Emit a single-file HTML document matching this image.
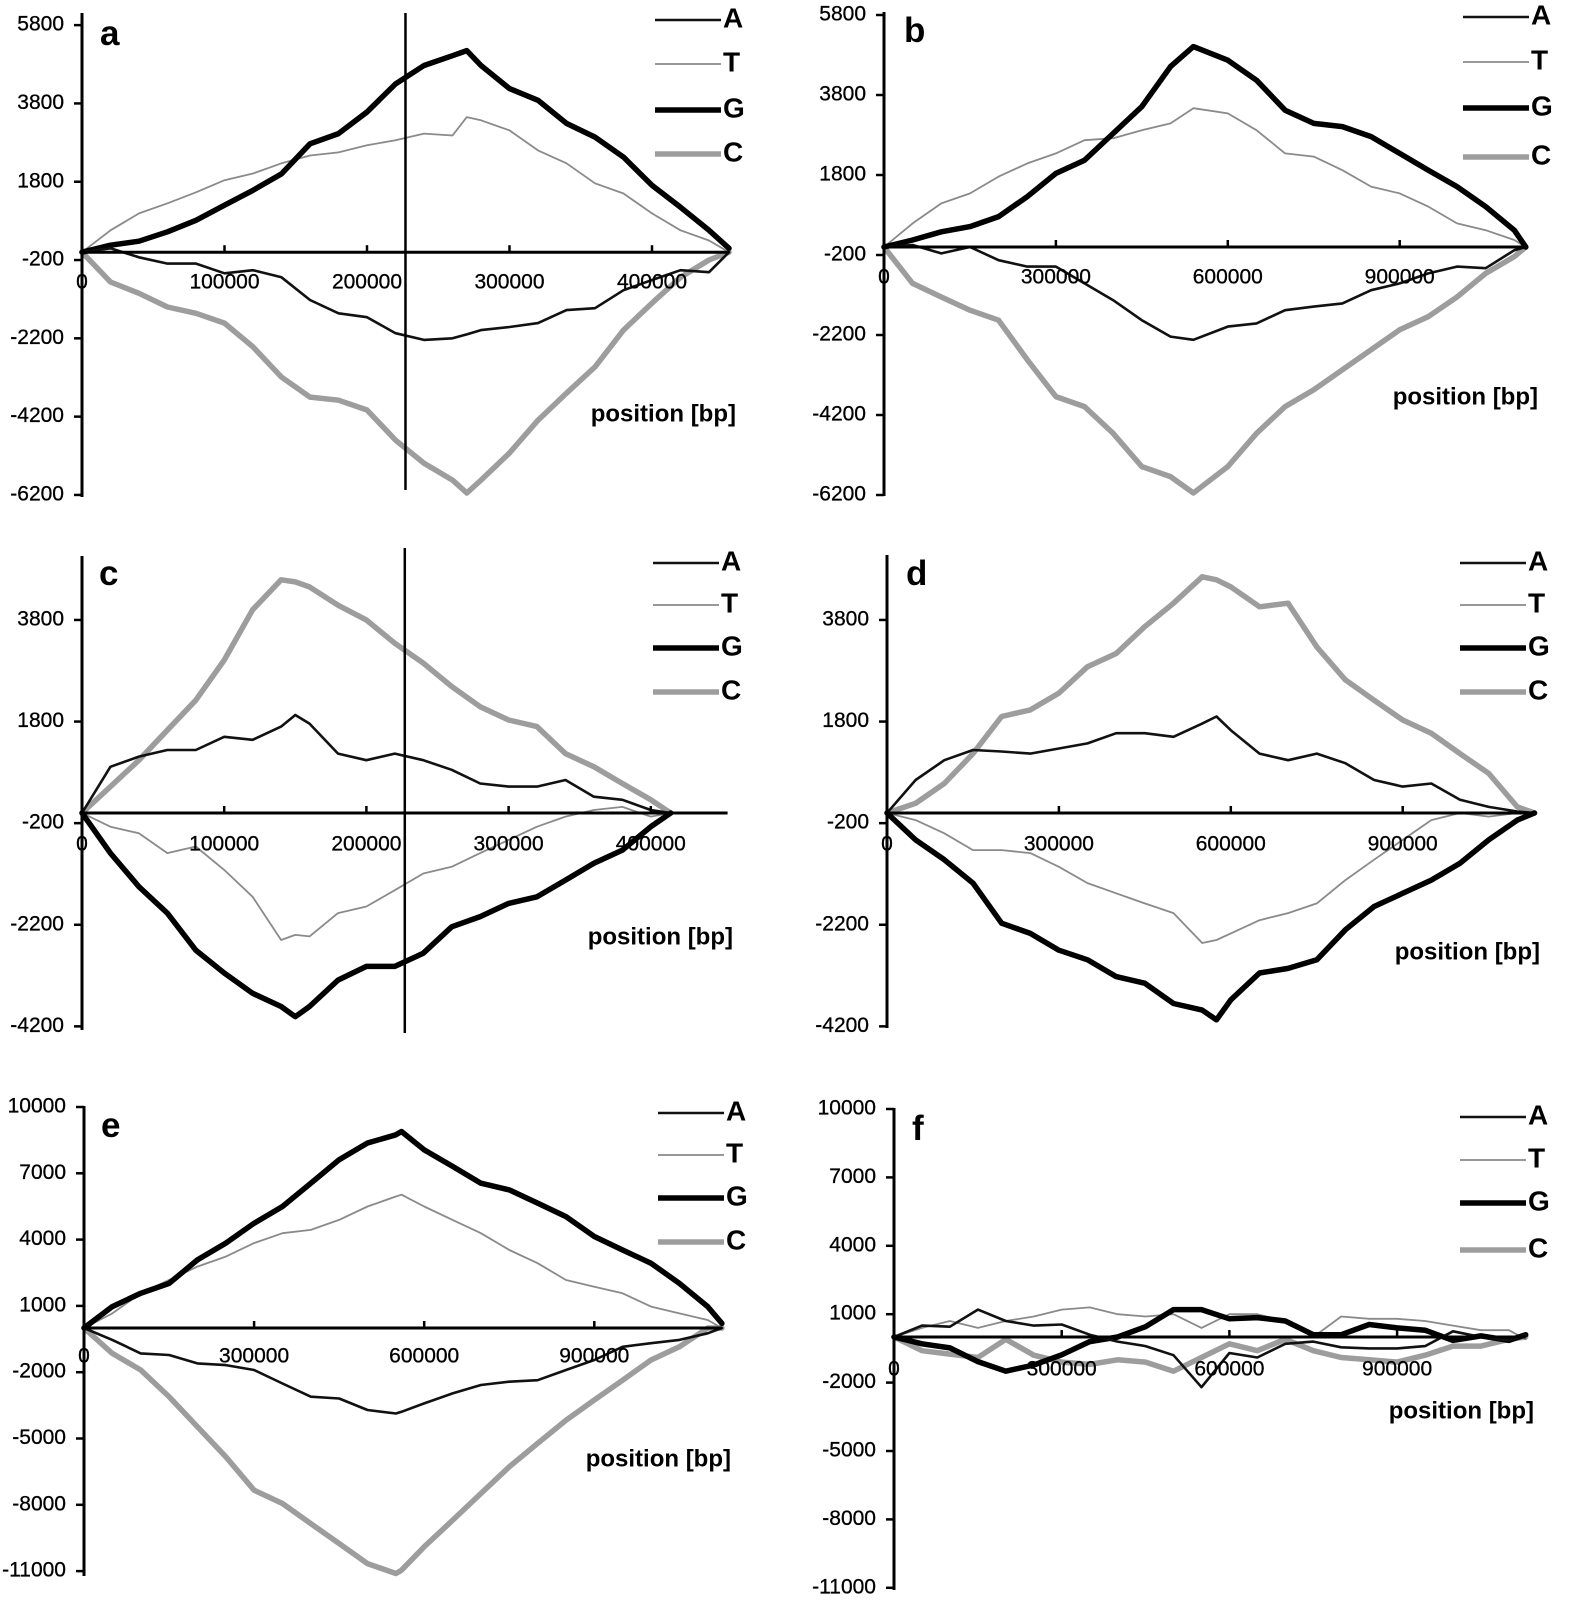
<!DOCTYPE html>
<html><head><meta charset="utf-8"><title>Cumulative nucleotide skew panels</title>
<style>
html,body{margin:0;padding:0;background:#fff;}
svg{display:block;}
text{font-family:"Liberation Sans",Arial,sans-serif;fill:#000;}
.yt{font-size:21px;text-anchor:end;dominant-baseline:middle;stroke:#000;stroke-width:0.3;}
.xt{font-size:21px;text-anchor:middle;dominant-baseline:middle;stroke:#000;stroke-width:0.3;}
.pl{font-size:35px;font-weight:bold;}
.lg{font-size:28px;font-weight:bold;dominant-baseline:middle;}
.ax{font-size:24px;font-weight:bold;text-anchor:end;dominant-baseline:middle;}
</style></head>
<body>
<svg id="fig" width="1586" height="1602" viewBox="0 0 1586 1602" xmlns="http://www.w3.org/2000/svg"></svg>
<script>
// ---- data (positions in kbp, values = cumulative skew) ----
const posA = [0,20,40,60,80,100,120,140,160,180,200,220,240,260,270,280,300,320,340,360,380,400,420,440,454];
const aG = [0,180,280,520,815,1200,1580,2000,2770,3030,3580,4300,4770,5020,5150,4770,4180,3880,3290,2940,2430,1710,1150,560,100];
const aT = [0,560,990,1250,1530,1840,2010,2270,2470,2550,2730,2860,3030,2980,3450,3370,3110,2600,2270,1760,1500,990,560,300,0];
const aA = [0,100,-130,-290,-290,-540,-460,-640,-1220,-1560,-1660,-2070,-2240,-2200,-2100,-1990,-1910,-1810,-1480,-1430,-970,-710,-460,-510,0];
const aC = [0,-760,-1050,-1400,-1560,-1810,-2420,-3190,-3700,-3780,-4030,-4800,-5390,-5820,-6150,-5820,-5130,-4290,-3600,-2930,-1990,-1300,-640,-200,0];

const posB = [0,50,100,150,200,250,300,350,400,450,500,540,600,650,700,750,800,850,900,950,1000,1050,1100,1120];
const bG = [0,175,380,510,760,1260,1840,2170,2840,3510,4510,5010,4670,4170,3420,3090,3010,2760,2340,1920,1510,1010,420,0];
const bT = [0,590,1090,1340,1760,2090,2340,2670,2720,2920,3090,3470,3340,2920,2340,2260,1920,1510,1340,1010,590,420,175,0];
const bA = [0,50,-160,0,-330,-490,-490,-910,-1330,-1830,-2240,-2320,-1990,-1910,-1580,-1490,-1410,-1080,-910,-660,-490,-530,-80,0];
const bC = [0,-910,-1250,-1580,-1830,-2820,-3740,-3990,-4660,-5490,-5740,-6150,-5490,-4660,-3990,-3570,-3070,-2570,-2070,-1740,-1250,-660,-240,0];

const posC = [0,20,40,60,80,100,120,140,150,160,180,200,220,240,260,280,300,320,340,360,380,400,414];
const cC = [0,520,1040,1630,2220,3010,4000,4590,4550,4450,4090,3800,3340,2950,2490,2090,1830,1700,1170,910,580,260,0];
const cA = [0,910,1110,1240,1240,1500,1440,1700,1930,1760,1170,1040,1170,1040,850,580,520,520,650,320,260,60,0];
const cT = [0,-270,-400,-790,-660,-1120,-1650,-2500,-2400,-2430,-1970,-1840,-1520,-1190,-1060,-790,-530,-270,-70,60,120,-70,0];
const cG = [0,-790,-1450,-1970,-2700,-3150,-3550,-3810,-4010,-3810,-3290,-3020,-3020,-2760,-2240,-2040,-1780,-1650,-1320,-990,-730,-270,0];

const posD = [0,50,100,150,200,250,300,350,400,450,500,550,575,600,650,700,750,800,850,900,950,1000,1050,1100,1130];
const dC = [0,190,580,1170,1900,2030,2360,2880,3140,3670,4130,4650,4590,4450,4060,4130,3270,2620,2220,1830,1570,1170,780,120,0];
const dA = [0,650,1040,1240,1210,1170,1270,1370,1570,1570,1500,1760,1900,1630,1170,1040,1170,980,650,520,580,260,120,30,0];
const dT = [0,-140,-400,-730,-730,-790,-1060,-1380,-1580,-1780,-1970,-2560,-2500,-2370,-2110,-1970,-1780,-1320,-920,-530,-140,0,-70,0,0];
const dG = [0,-530,-920,-1380,-2170,-2370,-2700,-2890,-3220,-3350,-3750,-3880,-4070,-3680,-3150,-3060,-2890,-2300,-1840,-1580,-1320,-990,-530,-140,0];

const posE = [0,50,100,150,200,250,300,350,400,450,500,550,560,600,650,700,750,800,850,900,950,1000,1050,1100,1125];
const eG = [0,970,1570,2020,3080,3840,4740,5500,6550,7610,8370,8740,8890,8060,7310,6550,6250,5650,5040,4140,3530,2930,2020,970,210];
const eT = [0,660,1570,2170,2780,3230,3840,4290,4440,4890,5500,5950,6030,5500,4890,4290,3530,2930,2170,1870,1570,970,660,360,0];
const eA = [0,-540,-1150,-1220,-1600,-1680,-1900,-2510,-3110,-3190,-3710,-3870,-3790,-3410,-2960,-2580,-2430,-2360,-1900,-1450,-850,-690,-540,-240,0];
const eC = [0,-1150,-1900,-3110,-4470,-5830,-7340,-7940,-8850,-9750,-10660,-11110,-10960,-9900,-8700,-7490,-6280,-5220,-4170,-3260,-2360,-1450,-850,0,0];

const posF = [0,50,100,150,200,250,300,350,400,450,500,550,600,650,700,750,800,850,900,950,1000,1050,1100,1130];
const fG = [0,-300,-480,-1080,-1500,-1230,-780,-200,0,450,1200,1200,800,850,700,100,100,550,400,300,-150,50,-150,100];
const fA = [0,500,450,1200,700,500,550,100,-200,-400,-800,-2200,-700,-900,-300,-200,-450,-500,-500,-400,250,0,-150,100];
const fT = [0,400,700,400,700,900,1200,1300,1000,900,1000,400,1000,1000,700,0,900,800,800,700,500,300,300,-100];
const fC = [0,-600,-750,-900,-100,-800,-1100,-1200,-1000,-1100,-1500,-900,-300,-600,-100,-600,-900,-1000,-1100,-800,-400,-400,-100,0];

const yTicksAB = [5800,3800,1800,-200,-2200,-4200,-6200];
const yTicksCD = [3800,1800,-200,-2200,-4200];
const yTicksEF = [10000,7000,4000,1000,-2000,-5000,-8000,-11000];
const xTicksSmall = [100000,200000,300000,400000];
const xTicksLarge = [300000,600000,900000];

// ---- layout (geometry only) ----
const panels = [
 {id:'a',x0:82,sx:0.001425,y0:252.2,sy:0.03915,top:13,bot:497,end:454000,vline:227000,vtop:13,vbot:490,
  yt:yTicksAB,xt:xTicksSmall,xly:283,pos:posA,A:aA,T:aT,G:aG,C:aC,lgx:655,lgy:[20,64,110,154],lbl:[100,45],posl:[736,415]},
 {id:'b',x0:884,sx:0.000573,y0:247,sy:0.04,top:12,bot:496,end:1120000,
  yt:yTicksAB,xt:xTicksLarge,xly:278,pos:posB,A:bA,T:bT,G:bG,C:bC,lgx:1463,lgy:[17,62,108,157],lbl:[904,42],posl:[1538,398]},
 {id:'c',x0:82,sx:0.001422,y0:813,sy:0.0508,top:556,bot:1030,end:454000,vline:227000,vtop:548,vbot:1033,
  yt:yTicksCD,xt:xTicksSmall,xly:845,pos:posC,A:cA,T:cT,G:cG,C:cC,lgx:653,lgy:[563,605,648,692],lbl:[99,585],posl:[733,938]},
 {id:'d',x0:887,sx:0.000573,y0:813,sy:0.0508,top:555,bot:1028,end:1130000,
  yt:yTicksCD,xt:xTicksLarge,xly:845,pos:posD,A:dA,T:dT,G:dG,C:dC,lgx:1460,lgy:[563,605,648,692],lbl:[906,585],posl:[1540,953]},
 {id:'e',x0:84,sx:0.000567,y0:1328,sy:0.0221,top:1106,bot:1576,end:1125000,
  yt:yTicksEF,xt:xTicksLarge,xly:1357,pos:posE,A:eA,T:eT,G:eG,C:eC,lgx:658,lgy:[1113,1155,1198,1242],lbl:[101,1137],posl:[731,1460]},
 {id:'f',x0:894,sx:0.000559,y0:1337,sy:0.0228,top:1108,bot:1590,end:1130000,
  yt:yTicksEF,xt:xTicksLarge,xly:1370,pos:posF,A:fA,T:fT,G:fG,C:fC,lgx:1460,lgy:[1117,1160,1203,1250],lbl:[912,1140],posl:[1534,1412]}
];
const styles = {
 A:{stroke:'#111',w:2.6},
 T:{stroke:'#8a8a8a',w:1.8},
 G:{stroke:'#000',w:5.5},
 C:{stroke:'#9d9d9d',w:5.5}
};
const NS='http://www.w3.org/2000/svg';
const svg=document.getElementById('fig');
function mk(tag,attrs,parent){const e=document.createElementNS(NS,tag);for(const k in attrs)e.setAttribute(k,attrs[k]);(parent||svg).appendChild(e);return e;}

panels.forEach(p=>{
  const X=v=>p.x0+v*p.sx, Y=v=>p.y0-v*p.sy;
  const g=mk('g',{});
  
  
  ['C','T','G','A'].forEach(s=>{
    const pts=p.pos.map((k,i)=>X(k*1000).toFixed(1)+','+Y(p[s][i]).toFixed(1)).join(' ');
    const l=mk('polyline',{points:pts,fill:'none',stroke:styles[s].stroke,'stroke-width':styles[s].w,'stroke-linejoin':'round','stroke-linecap':'round'},g);
    
    
  });
  const ya=mk('line',{x1:p.x0,y1:p.top,x2:p.x0,y2:p.bot,stroke:'#000','stroke-width':3},g);
  
  
  const xa=mk('line',{x1:p.x0,y1:Y(0),x2:X(p.end),y2:Y(0),stroke:'#000','stroke-width':3},g);
  
  
  if(p.vline){
    const vl=mk('line',{x1:X(p.vline),y1:p.vtop,x2:X(p.vline),y2:p.vbot,stroke:'#000','stroke-width':2.5},g);
    
    
  }
  p.yt.forEach(v=>{
    mk('line',{x1:p.x0-8,y1:Y(v),x2:p.x0,y2:Y(v),stroke:'#000','stroke-width':2.5},g);
    const t=mk('text',{x:p.x0-18,y:Y(v),class:'yt'},g);t.textContent=v;
    
    
  });
  p.xt.forEach(v=>{
    mk('line',{x1:X(v),y1:Y(0)-7,x2:X(v),y2:Y(0),stroke:'#000','stroke-width':2.5},g);
    const t=mk('text',{x:X(v),y:p.xly,class:'xt'},g);t.textContent=v;
    
    
  });
  const z=mk('text',{x:p.x0,y:p.xly,class:'xt'},g);z.textContent='0';
  
  
  const pl=mk('text',{x:p.lbl[0],y:p.lbl[1],class:'pl'},g);pl.textContent=p.id;
  
  
  const at=mk('text',{x:p.posl[0],y:p.posl[1],class:'ax'},g);at.textContent='position [bp]';
  
  
  ['A','T','G','C'].forEach((s,i)=>{
    const ly=p.lgy[i];
    const ll=mk('line',{x1:p.lgx,y1:ly,x2:p.lgx+66,y2:ly,stroke:styles[s].stroke,'stroke-width':styles[s].w},g);
    
    
    const lt=mk('text',{x:p.lgx+68,y:ly,class:'lg'},g);lt.textContent=s;
    
    
  });
});
</script>
</body></html>
